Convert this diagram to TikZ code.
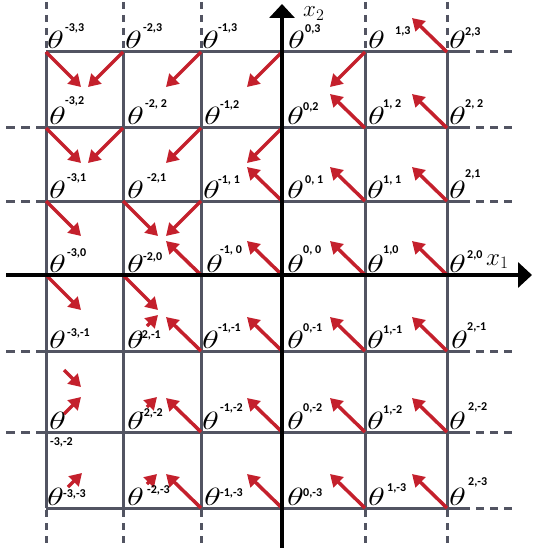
\RequirePackage{fix-cm}
\documentclass[tikz,border=0pt]{standalone}
\usepackage{fontspec}
\newfontfamily\supf{Carlito}
\usetikzlibrary{arrows.meta,calc}
\definecolor{gridc}{RGB}{82,84,98}
\definecolor{arrc}{RGB}{196,32,44}
\tikzset{
  gridline/.style={draw=gridc, line width=3pt},
  gdash/.style={draw=gridc, line width=3pt, dash pattern=on 8pt off 6pt},
  axisline/.style={draw=black, line width=4pt, -{Triangle[length=14pt,width=25pt]}},
  vec/.style={draw=arrc, line width=3.5pt, -{Triangle[length=12pt,width=14pt]}},
  th/.style={inner sep=0pt, anchor=base west, font=\fontsize{25}{25}\selectfont},
  sp/.style={inner sep=0pt, anchor=base west, font=\supf\bfseries\fontsize{12}{12}\selectfont},
}
% #1 grid point, #2 theta dx, #3 sup dx, #4 sup baseline dy (negative = up), #5 text
\newcommand\thlab[5]{%
  \node[th] (t#1) at ($(#1)+(#2-1,-3)$) {\scalebox{1.4}[1]{$\theta$}};
  \node[sp] (s#1) at ($(#1)+(#3,#4)$) {#5};
}
\begin{document}
\begin{tikzpicture}[x=1pt,y=-1pt]
\fill[white] (0,0) rectangle (533,548);
\useasboundingbox (0,0) rectangle (533,548);
% grid points: g<col><row>, col 0..5 = i -3..2, row 0..6 = j -3..3
\foreach \x [count=\i from 0] in {46,123,201,282,365,447}{
  \foreach \y [count=\j from 0] in {508,432,351,275,201,128,52}{
    \coordinate (g\i\j) at (\x,\y);
  }
}
% horizontal grid lines
\foreach \r in {0,1,2,4,5,6}{
  \draw[gridline] (g0\r) -- (g5\r) -- ++(23,0) coordinate (re\r);
  \draw[gdash] ($(re\r)+(6,0)$) -- ++(36,0);
}
\foreach \r in {1,2,4,5}{
  \draw[gdash, dash pattern=on 9pt off 6pt] ($(g0\r)+(-40,0)$) -- (g0\r);
}
% vertical grid lines
\foreach \c in {0,1,2,4,5}{
  \draw[gridline] (g\c0) -- (g\c6);
  \draw[gdash, dash pattern=on 7pt off 6pt] ($(g\c6)+(0,-50)$) -- (g\c6);
  \draw[gdash, dash pattern=on 7pt off 6pt] ($(g\c0)+(0,2)$) -- ++(0,40);
}
% red arrows
\foreach \p in {06,05,04,14,03,13}{\draw[vec] (g\p) -- ++(35,35);}
\foreach \p in {16,26,36,46,15,25,35,24}{\draw[vec] (g\p) -- ++(-35,35);}
\foreach \p in {56,55,45,54,44,34,53,43,33,23,52,42,32,22,51,41,31,21,50,40,30,20}{\draw[vec] (g\p) -- ++(-35,-34);}
\draw[vec] ($(g02)+(18,19)$) -- ($(g02)+(35,36)$);
\draw[vec] ($(g01)+(18,-18)$) -- ($(g01)+(35,-35)$);
\draw[vec] ($(g00)+(22,-21)$) -- ($(g00)+(36,-35)$);
\draw[vec] ($(g12)+(24,-25)$) -- ($(g12)+(35,-36)$);
\draw[vec] ($(g11)+(24,-25)$) -- ($(g11)+(34,-35)$);
\draw[vec] ($(g10)+(24,-24)$) -- ($(g10)+(34,-34)$);
% axes
\coordinate (xl) at (6,275);
\coordinate (xr) at (532,275);
\coordinate (yb) at (282,548);
\coordinate (yt) at (282,4);
\draw[axisline] (xl) -- (xr);
\draw[axisline] (yb) -- (yt);
\node[th] (xone) at (486,265) {$x_1$};
\node[th, font=\fontsize{23}{23}\selectfont] (xtwo) at (303,17) {$x_2$};
% labels
\thlab{g06}{2}{19}{-20}{-3,3}
\thlab{g16}{3}{20}{-20}{-2,3}
\thlab{g26}{2}{17}{-20}{-1,3}
\thlab{g36}{7}{23}{-19}{0,3}
\thlab{g46}{4}{30}{-17}{1,3}
\thlab{g56}{3}{18}{-16}{2,3}
\thlab{g05}{4}{19}{-23}{-3,2}
\thlab{g15}{5}{22}{-20}{-2, 2}
\thlab{g25}{4}{19}{-19}{-1,2}
\thlab{g35}{6}{21}{-17}{0,2}
\thlab{g45}{4}{18}{-20}{1, 2}
\thlab{g55}{3}{18}{-20}{2, 2}
\thlab{g04}{4}{21}{-20}{-3,1}
\thlab{g14}{5}{24}{-20}{-2,1}
\thlab{g24}{3}{17}{-18}{-1, 1}
\thlab{g34}{6}{23}{-18}{0, 1}
\thlab{g44}{3}{18}{-18}{1, 1}
\thlab{g54}{3}{18}{-23}{2,1}
\thlab{g03}{4}{21}{-19}{-3,0}
\thlab{g13}{5}{20}{-15}{-2,0}
\thlab{g23}{6}{19}{-22}{-1, 0}
\thlab{g33}{6}{21}{-22}{0, 0}
\thlab{g43}{3}{18}{-22}{1,0}
\thlab{g53}{3}{20}{-17}{2,0}
\thlab{g02}{4}{21}{-15}{-3,-1}
\thlab{g12}{5}{15}{-13}{-2,-1}
\thlab{g22}{2}{17}{-20}{-1,-1}
\thlab{g32}{6}{21}{-20}{0,-1}
\thlab{g42}{3}{18}{-18}{1,-1}
\thlab{g52}{5}{20}{-21}{2,-1}
\thlab{g01}{4}{4}{13}{-3,-2}
\thlab{g11}{5}{17}{-16}{-2,-2}
\thlab{g21}{2}{19}{-21}{-1,-2}
\thlab{g31}{6}{21}{-21}{0,-2}
\thlab{g41}{3}{18}{-19}{1,-2}
\thlab{g51}{3}{21}{-22}{2,-2}
\thlab{g00}{2}{17}{-11}{-3,-3}
\thlab{g10}{5}{24}{-15}{-2,-3}
\thlab{g20}{4}{19}{-12}{-1,-3}
\thlab{g30}{6}{21}{-12}{0,-3}
\thlab{g40}{4}{22}{-17}{1,-3}
\thlab{g50}{3}{21}{-23}{2,-3}
\end{tikzpicture}
\end{document}
